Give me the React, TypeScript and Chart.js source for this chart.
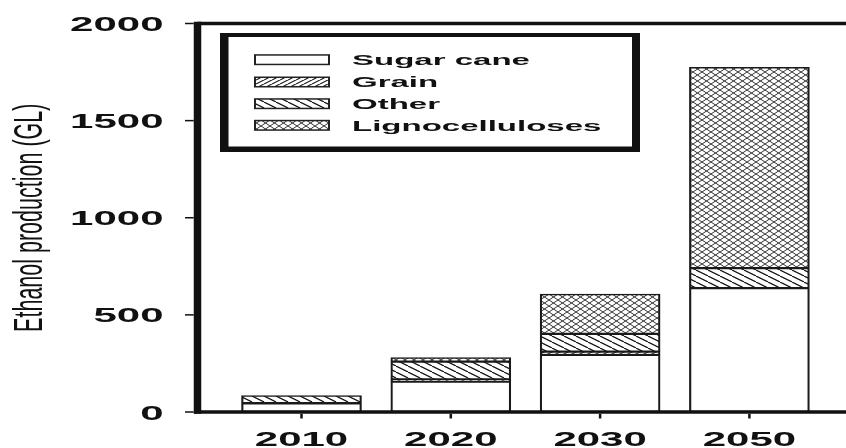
import React, { useEffect, useRef } from 'react';
import { Chart, registerables } from 'chart.js';

Chart.register(...registerables);

// ---- data ----
const categories = ['2010', '2020', '2030', '2050'];
const sugarCane = [45, 156, 294, 638];
const grain = [0, 12, 17, 0];
const other = [39, 91, 91, 103];
const lignocelluloses = [0, 21, 205, 1034];
const yTicks = [0, 500, 1000, 1500, 2000];
const seriesNames = ['Sugar cane', 'Grain', 'Other', 'Lignocelluloses'];
const yTitle = 'Ethanol production (GL)';

const INK = '#111';
const FONT = '"Liberation Sans", Arial, sans-serif';

type Dir = 'fwd' | 'back';

function makePattern(w: number, h: number, dirs: Dir[], lw: number, color: string): CanvasPattern | string {
  const c = document.createElement('canvas');
  c.width = w;
  c.height = h;
  const g = c.getContext('2d');
  if (!g) return '#fff';
  g.fillStyle = '#fff';
  g.fillRect(0, 0, w, h);
  g.strokeStyle = color;
  g.lineWidth = lw;
  for (const d of dirs) {
    for (let k = -1; k <= 1; k++) {
      g.beginPath();
      if (d === 'back') {
        g.moveTo(k * w, 0);
        g.lineTo(k * w + w, h);
      } else {
        g.moveTo(k * w, h);
        g.lineTo(k * w + w, 0);
      }
      g.stroke();
    }
  }
  const p = g.createPattern(c, 'repeat');
  return p || '#fff';
}

function stretchedText(
  ctx: CanvasRenderingContext2D,
  text: string,
  x: number,
  y: number,
  sx: number,
  align: CanvasTextAlign
) {
  ctx.save();
  ctx.translate(x, y);
  ctx.scale(sx, 1);
  ctx.textAlign = align;
  ctx.textBaseline = 'alphabetic';
  ctx.fillText(text, 0, 0);
  ctx.restore();
}

export default function App() {
  const ref = useRef<HTMLCanvasElement | null>(null);

  useEffect(() => {
    const canvas = ref.current;
    if (!canvas) return;

    const fills = [
      '#ffffff',
      makePattern(8, 4, ['fwd'], 1.1, '#111'),
      makePattern(12, 6, ['back'], 1.2, '#111'),
      makePattern(9, 6, ['fwd', 'back'], 1.0, '#333'),
    ];
    const series = [sugarCane, grain, other, lignocelluloses];

    const decor = {
      id: 'decor',
      afterDatasetsDraw(chart: any) {
        const ctx: CanvasRenderingContext2D = chart.ctx;
        const xs = chart.scales.x;
        const ys = chart.scales.y;
        const ca = chart.chartArea;
        const W = chart.width;
        const yTop = ys.getPixelForValue(2000);
        const yZero = ys.getPixelForValue(0);
        const line = (x1: number, y1: number, x2: number, y2: number) => {
          ctx.beginPath();
          ctx.moveTo(x1, y1);
          ctx.lineTo(x2, y2);
          ctx.stroke();
        };
        ctx.save();
        ctx.strokeStyle = INK;
        ctx.fillStyle = INK;
        ctx.lineCap = 'butt';

        // frame top line
        ctx.lineWidth = 3.5;
        line(ca.left, yTop, W, yTop);
        // x axis
        ctx.lineWidth = 3.5;
        line(ca.left - 3.5, yZero, W, yZero);
        // y axis
        ctx.lineWidth = 7.5;
        line(ca.left, yTop - 1.75, ca.left, yZero + 1.75);

        // y ticks + labels
        ctx.lineWidth = 1.5;
        ctx.font = `bold 21px ${FONT}`;
        yTicks.forEach((v) => {
          const y = ys.getPixelForValue(v);
          line(ca.left - 12.5, y, ca.left - 3.75, y);
          stretchedText(ctx, String(v), ca.left - 34, y + 7.5, 2.0, 'right');
        });

        // x ticks + labels
        ctx.lineWidth = 2.5;
        categories.forEach((c, i) => {
          const x = xs.getPixelForValue(i);
          line(x, yZero + 1.75, x, yZero + 6.5);
          stretchedText(ctx, c, x, yZero + 33.5, 2.0, 'center');
        });

        // y title
        ctx.save();
        ctx.font = `21.5px ${FONT}`;
        ctx.translate(42, (ca.top + ca.bottom) / 2);
        ctx.scale(1.9, 1);
        ctx.rotate(-Math.PI / 2);
        ctx.textAlign = 'center';
        ctx.textBaseline = 'alphabetic';
        ctx.fillText(yTitle, 0, 0);
        ctx.restore();

        // legend box
        const bx = ca.left + 22.5;
        const by = ca.top + 9.5;
        const bw = 420;
        const bh = 119;
        ctx.fillStyle = INK;
        ctx.fillRect(bx, by, bw, bh);
        ctx.fillStyle = '#fff';
        ctx.fillRect(bx + 8.5, by + 4, bw - 16.5, bh - 9.5);

        const sx0 = bx + 34;
        const sw = 76;
        const sh = 11;
        const rows = [59.7, 82, 103.7, 125.3];
        seriesNames.forEach((name, i) => {
          const cy = rows[i];
          ctx.fillStyle = '#222';
          ctx.fillRect(sx0, cy - sh / 2, sw, sh);
          ctx.fillStyle = fills[i] as any;
          ctx.fillRect(sx0 + 2, cy - sh / 2 + 1.5, sw - 4, sh - 3);
          ctx.fillStyle = INK;
          ctx.font = `bold 15px ${FONT}`;
          stretchedText(ctx, name, sx0 + 98, cy + 5.3, 2.2, 'left');
        });

        ctx.restore();
      },
    };

    const chart = new Chart(canvas, {
      type: 'bar',
      data: {
        datasets: series.map((vals, si) => ({
          label: seriesNames[si],
          data: vals.map((v, i) => ({ x: i, y: v })),
          backgroundColor: fills[si] as any,
          borderColor: '#1a1a1a',
          borderWidth: { top: 1.5, bottom: 1.5, left: 2.2, right: 2.2 },
          borderSkipped: false,
          barThickness: 120,
          stack: 's',
        })),
      },
      options: {
        animation: false,
        responsive: false,
        maintainAspectRatio: false,
        layout: { padding: { left: 197.5, top: 23.5, right: 0, bottom: 36 } },
        plugins: {
          legend: { display: false },
          tooltip: { enabled: false },
        },
        scales: {
          x: {
            type: 'linear',
            display: false,
            stacked: true,
            offset: false,
            min: -0.6966,
            max: 3.647,
          },
          y: {
            type: 'linear',
            display: false,
            stacked: true,
            min: 0,
            max: 2000,
          },
        },
      } as any,
      plugins: [decor],
    });

    return () => chart.destroy();
  }, []);

  return (
    <div style={{ position: 'absolute', left: 0, top: 0, width: 846, height: 448, background: '#fff' }}>
      <canvas ref={ref} width={846} height={448} style={{ display: 'block', width: 846, height: 448 }} />
    </div>
  );
}
